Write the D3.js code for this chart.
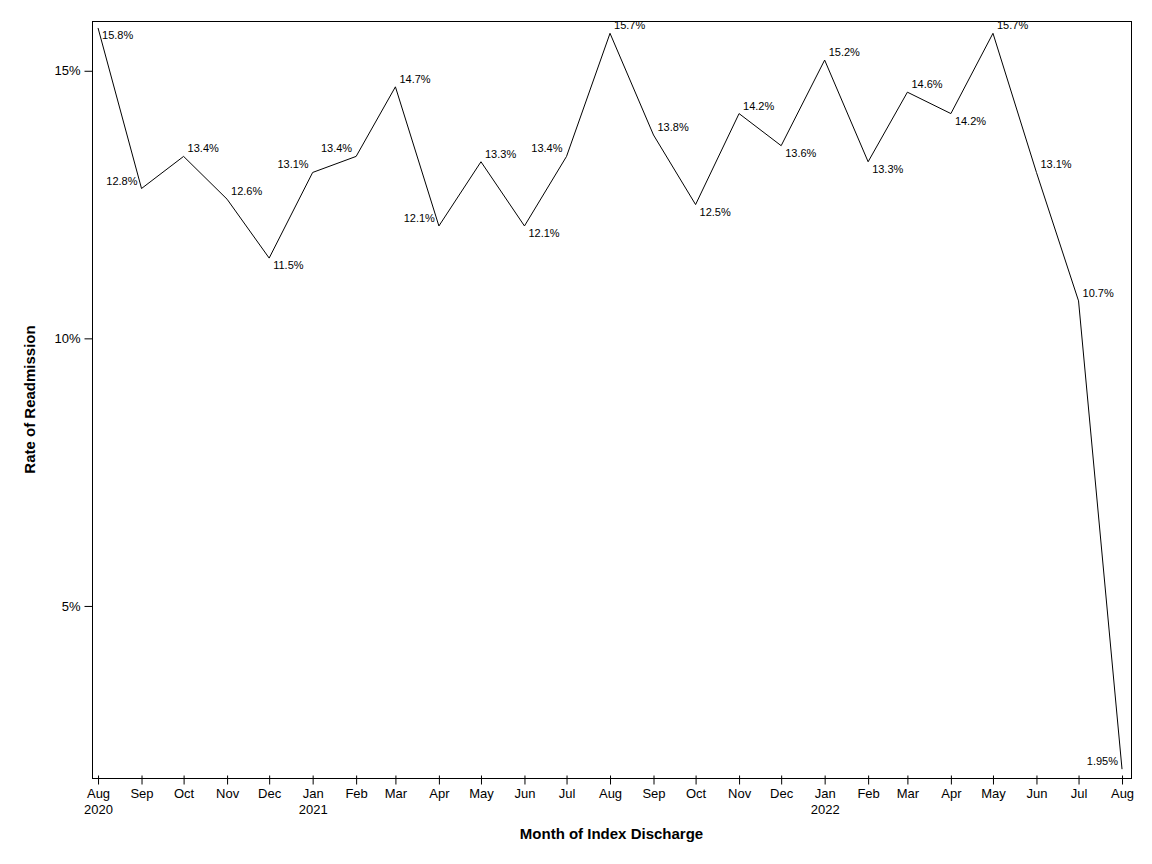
<!DOCTYPE html>
<html>
<head>
<meta charset="utf-8">
<script src="https://cdn.jsdelivr.net/npm/d3@7"></script>
<style>
  html, body { margin: 0; padding: 0; background: #fff; }
  svg { display: block; }
</style>
</head>
<body>
<svg id="chart" width="1152" height="864"></svg>
<script>
// ---- data ----
const months = ["2020-08","2020-09","2020-10","2020-11","2020-12","2021-01","2021-02","2021-03","2021-04","2021-05","2021-06","2021-07","2021-08","2021-09","2021-10","2021-11","2021-12","2022-01","2022-02","2022-03","2022-04","2022-05","2022-06","2022-07","2022-08"];
const rates = [15.8, 12.8, 13.4, 12.6, 11.5, 13.1, 13.4, 14.7, 12.1, 13.3, 12.1, 13.4, 15.7, 13.8, 12.5, 14.2, 13.6, 15.2, 13.3, 14.6, 14.2, 15.7, 13.1, 10.7, 1.95];
const labelPlacement = ["rb","la","ra","ra","rb","la","la","ra","la","ra","rb","la","ra","ra","rb","ra","rb","ra","rb","ra","rb","ra","ra","ra","la"];
const yTicks = [5, 10, 15];
const monthNames = ["Jan","Feb","Mar","Apr","May","Jun","Jul","Aug","Sep","Oct","Nov","Dec"];

// ---- layout ----
const svg = d3.select("#chart");
const L = 92, R = 1131, T = 21, B = 778;
const dates = months.map(m => new Date(m + "-01T00:00:00Z"));
const DAY = 86400000;
const x = d3.scaleUtc()
  .domain([new Date(+dates[0] - 4.3 * DAY), new Date(+dates[dates.length - 1] + 6.4 * DAY)])
  .range([L, R]);
const y = d3.scaleLinear().domain([1.785, 15.93]).range([B, T]);

const font = "'Liberation Sans', Arial, sans-serif";

// frame
svg.append("rect")
  .attr("x", L + 0.5).attr("y", T + 0.5)
  .attr("width", R - L).attr("height", B - T)
  .attr("fill", "none").attr("stroke", "#000").attr("stroke-width", 1);

// y axis
const yAxis = d3.axisLeft(y).tickValues(yTicks).tickSize(8).tickPadding(4)
  .tickFormat(d => d + "%");
const gy = svg.append("g").attr("transform", `translate(${L + 0.5},0)`).call(yAxis);
gy.select(".domain").remove();
gy.selectAll("text").attr("font-family", font).attr("font-size", 13).attr("fill", "#000");
gy.selectAll("line").attr("stroke", "#000");

// x axis
const xAxis = d3.axisBottom(x).tickValues(dates).tickSize(6).tickPadding(4)
  .tickFormat(d => monthNames[d.getUTCMonth()]);
const gx = svg.append("g").attr("transform", `translate(0,${B + 0.5})`).call(xAxis);
gx.select(".domain").remove();
gx.selectAll(".tick line").attr("y1", -3).attr("stroke", "#000");
gx.selectAll("text").attr("font-family", font).attr("font-size", 13).attr("fill", "#000");
gx.selectAll(".tick").each(function(d, i) {
  if (i === 0 || d.getUTCMonth() === 0) {
    d3.select(this).append("text")
      .attr("y", 35).attr("text-anchor", "middle")
      .attr("font-family", font).attr("font-size", 13).attr("fill", "#000")
      .text(d.getUTCFullYear());
  }
});

// line
const line = d3.line().x((d, i) => x(dates[i])).y(d => y(d));
svg.append("path").datum(rates)
  .attr("d", line).attr("fill", "none").attr("stroke", "#000").attr("stroke-width", 1);

// point labels
const fmt = d3.format(".3");
svg.append("g").selectAll("text").data(rates).join("text")
  .attr("font-family", font).attr("font-size", 11).attr("fill", "#000")
  .attr("text-anchor", (d, i) => labelPlacement[i][0] === "r" ? "start" : "end")
  .attr("x", (d, i) => x(dates[i]) + (labelPlacement[i][0] === "r" ? 4 : -4))
  .attr("y", (d, i) => y(d) + (labelPlacement[i][1] === "a" ? -4 : 11))
  .text(d => fmt(d) + "%");

// axis titles
svg.append("text")
  .attr("x", (L + R) / 2).attr("y", 839)
  .attr("text-anchor", "middle").attr("font-family", font)
  .attr("font-size", 15).attr("font-weight", "bold")
  .text("Month of Index Discharge");
svg.append("text")
  .attr("transform", `translate(35,${(T + B) / 2}) rotate(-90)`)
  .attr("text-anchor", "middle").attr("font-family", font)
  .attr("font-size", 15).attr("font-weight", "bold")
  .text("Rate of Readmission");
</script>
</body>
</html>
